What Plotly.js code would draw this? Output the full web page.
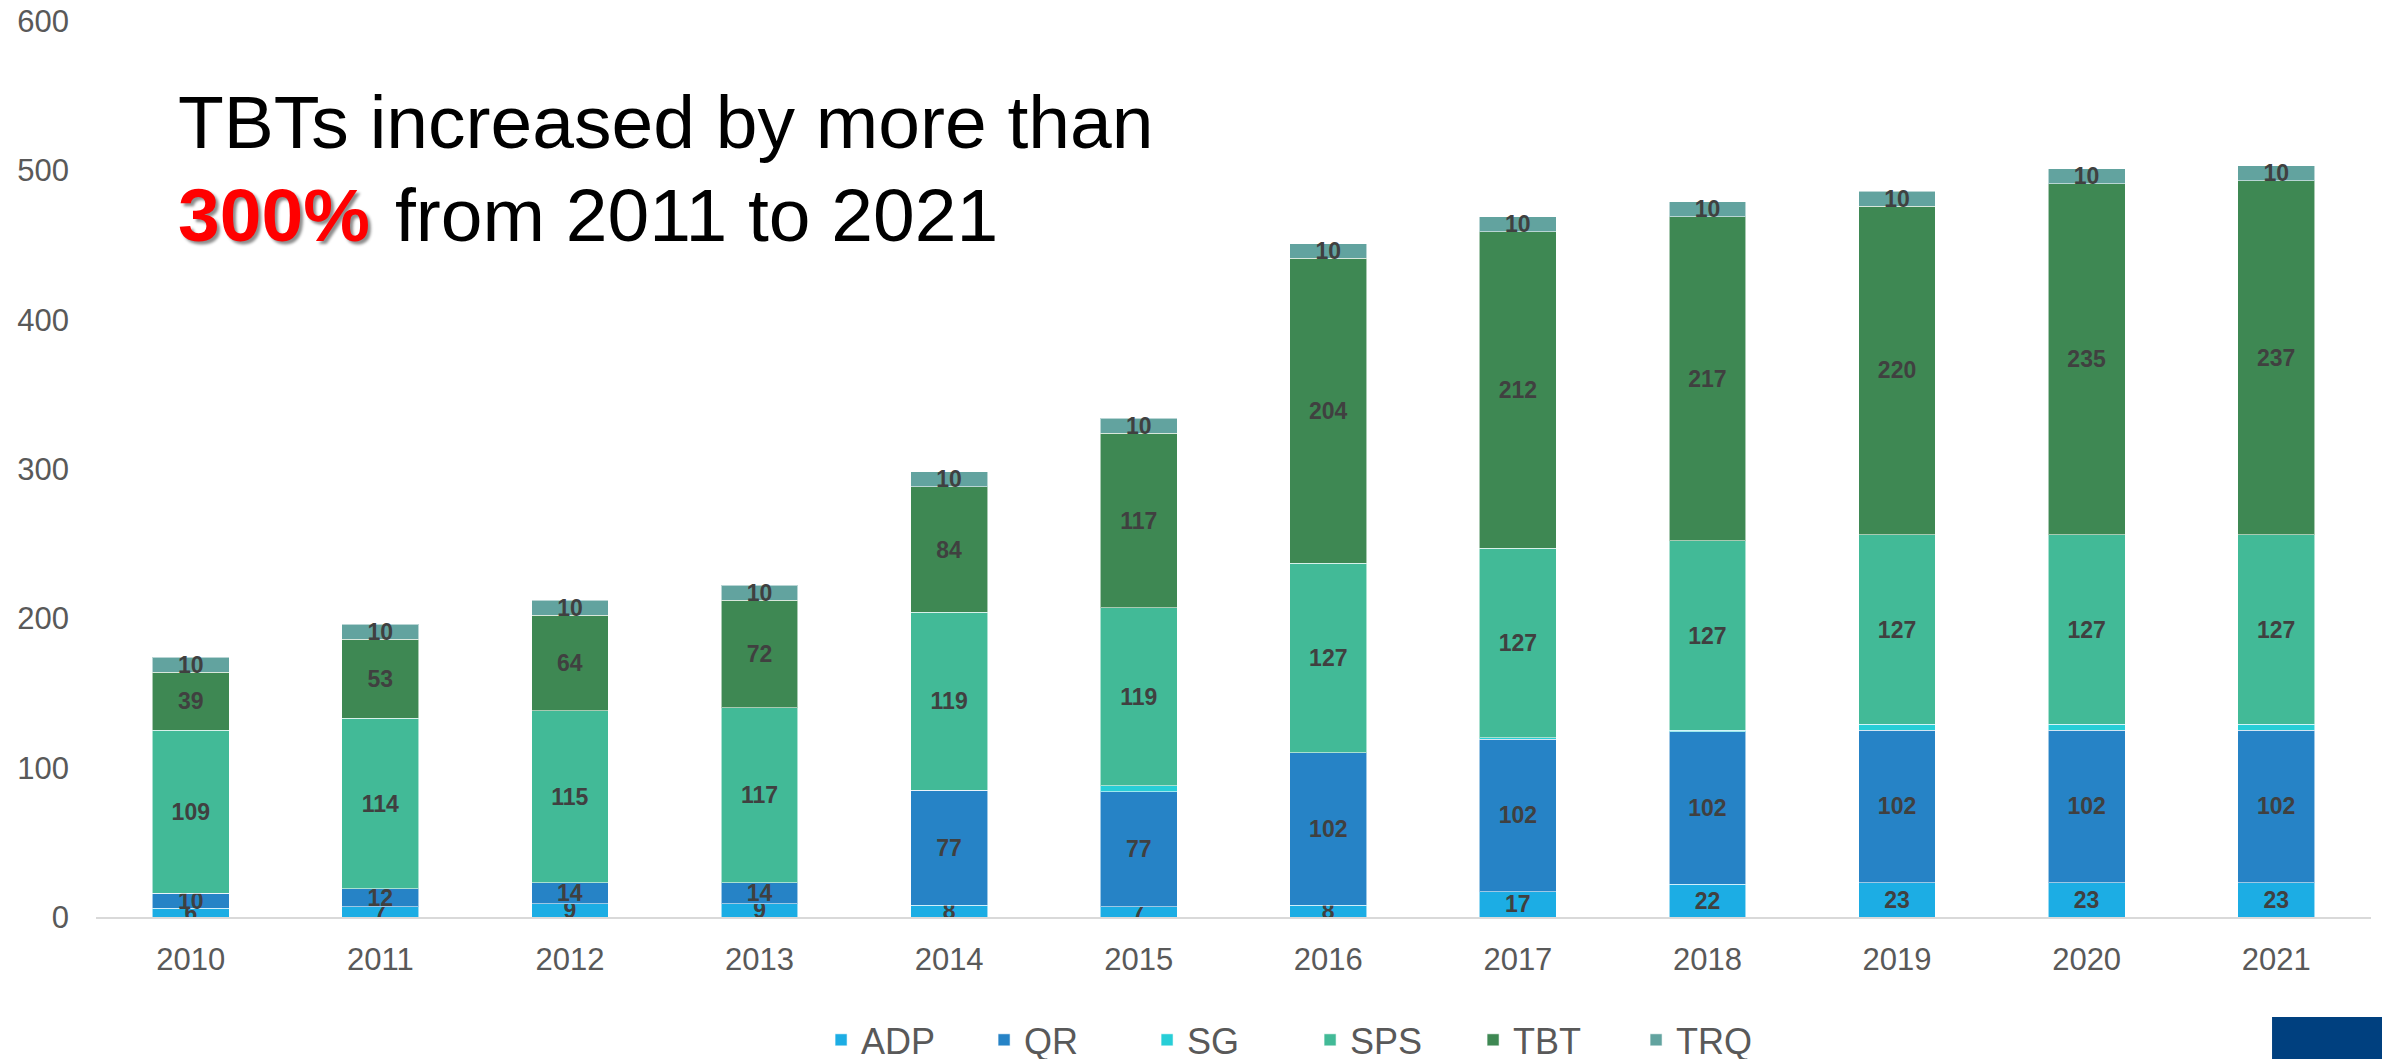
<!DOCTYPE html>
<html>
<head>
<meta charset="utf-8">
<script src="https://cdn.plot.ly/plotly-3.0.1.min.js"></script>
<style>
  html, body { margin: 0; padding: 0; background: #ffffff; }
  #chart { width: 2382px; height: 1059px; }
</style>
</head>
<body>
<div id="chart"></div>
<script>
// ---- data ----
const years = ['2010','2011','2012','2013','2014','2015','2016','2017','2018','2019','2020','2021'];
const adp = [6, 7, 9, 9, 8, 7, 8, 17, 22, 23, 23, 23];
const qr  = [10, 12, 14, 14, 77, 77, 102, 102, 102, 102, 102, 102];
const sg  = [0, 0, 0, 0, 0, 4, 0, 1, 1, 4, 4, 4];
const sps = [109, 114, 115, 117, 119, 119, 127, 127, 127, 127, 127, 127];
const tbt = [39, 53, 64, 72, 84, 117, 204, 212, 217, 220, 235, 237];
const trq = [10, 10, 10, 10, 10, 10, 10, 10, 10, 10, 10, 10];
const seriesNames = ['ADP', 'QR', 'SG', 'SPS', 'TBT', 'TRQ'];
const seriesColors = ['#1CADE4', '#2683C6', '#27CED7', '#42BA97', '#3E8853', '#62A39F'];
const seriesValues = [adp, qr, sg, sps, tbt, trq];
const showLabels = [true, true, false, true, true, true];
const titleLine1 = 'TBTs increased by more than';
const titleHighlight = '300%';
const titleLine2 = 'from 2011 to 2021';

const FONT = 'Liberation Sans, Arial, sans-serif';

const traces = seriesNames.map((name, i) => ({
  type: 'bar',
  name: name,
  x: years,
  y: seriesValues[i],
  marker: { color: seriesColors[i], line: { color: 'rgba(255,255,255,0.55)', width: 1 } },
  text: showLabels[i] ? seriesValues[i].map(v => String(v)) : null,
  textposition: showLabels[i] ? 'inside' : 'none',
  insidetextanchor: 'middle',
  constraintext: 'none',
  textangle: 0,
  textfont: { family: FONT, size: 23, color: '#404040', weight: 'bold' },
  hoverinfo: 'skip'
}));

const layout = {
  width: 2382,
  height: 1059,
  margin: { l: 96, r: 11, t: 21, b: 142 },
  paper_bgcolor: '#ffffff',
  plot_bgcolor: '#ffffff',
  barmode: 'stack',
  bargap: 0.595,
  font: { family: FONT, color: '#595959' },
  showlegend: true,
  legend: {
    orientation: 'h',
    xref: 'container', x: 0.3447, xanchor: 'left',
    yref: 'container', y: 0.018, yanchor: 'middle',
    font: { family: FONT, size: 36, color: '#595959' },
    traceorder: 'normal',
    entrywidth: 118,
    entrywidthmode: 'pixels',
    bgcolor: 'rgba(0,0,0,0)'
  },
  xaxis: {
    type: 'category',
    showgrid: false,
    showline: true,
    linecolor: '#D9D9D9',
    linewidth: 2,
    ticks: '',
    tickfont: { family: FONT, size: 31, color: '#595959' },
    ticklabelstandoff: 14,
    fixedrange: true
  },
  yaxis: {
    range: [0, 600],
    dtick: 100,
    tick0: 0,
    showgrid: false,
    zeroline: false,
    showline: false,
    ticks: '',
    tickfont: { family: FONT, size: 31, color: '#595959' },
    ticklabelstandoff: 26,
    fixedrange: true
  },
  annotations: [
    {
      xref: 'paper', yref: 'paper',
      x: 0.0352, y: 0.8873, xanchor: 'left', yanchor: 'middle',
      text: titleLine1, showarrow: false,
      font: { family: FONT, size: 75, color: '#000000' }
    },
    {
      xref: 'paper', yref: 'paper',
      x: 0.0352, y: 0.7835, xanchor: 'left', yanchor: 'middle',
      text: titleHighlight, showarrow: false,
      font: { family: FONT, size: 75, color: '#FF0000', weight: 'bold', shadow: '3px 3px 3px rgba(0,0,0,0.45)' }
    },
    {
      xref: 'paper', yref: 'paper',
      x: 0.1306, y: 0.7835, xanchor: 'left', yanchor: 'middle',
      text: titleLine2, showarrow: false,
      font: { family: FONT, size: 75, color: '#000000' }
    }
  ],
  shapes: [
    {
      type: 'rect', xref: 'paper', yref: 'paper',
      x0: 0.9565, x1: 1.01, y0: -0.1116, y1: -0.2,
      fillcolor: '#00407F', line: { width: 0 }, layer: 'above'
    }
  ]
};

Plotly.newPlot('chart', traces, layout, { displayModeBar: false, staticPlot: true });
</script>
</body>
</html>
